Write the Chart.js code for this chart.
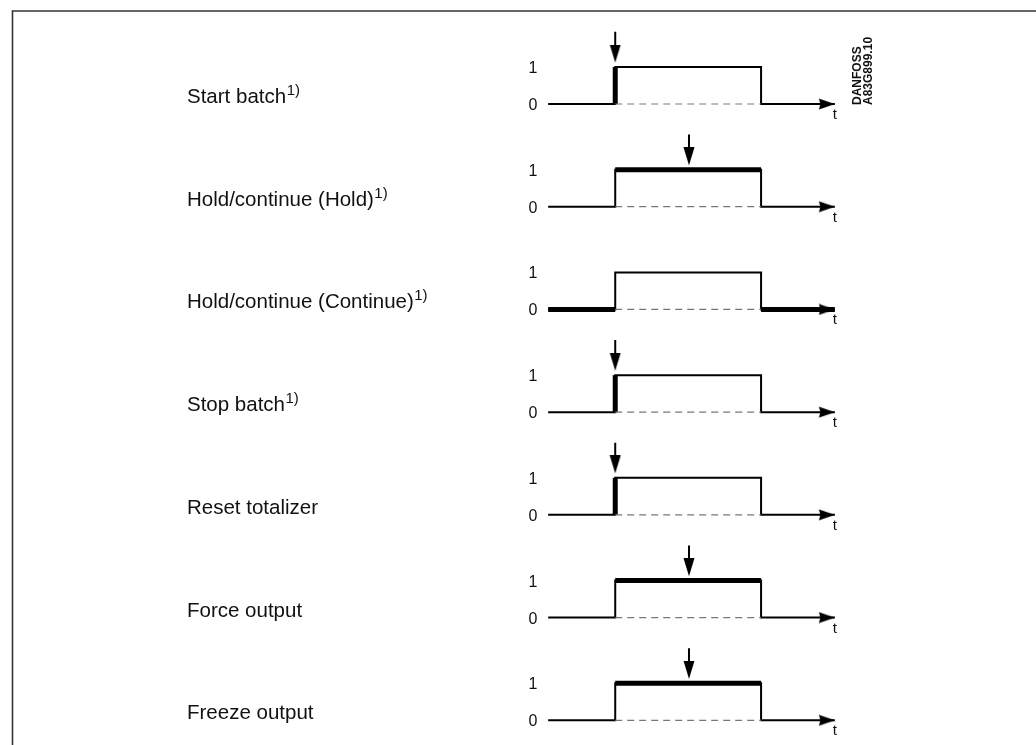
<!DOCTYPE html>
<html>
<head>
<meta charset="utf-8">
<script src="https://cdn.jsdelivr.net/npm/chart.js@4/dist/chart.umd.min.js"></script>
<style>
html, body { margin: 0; padding: 0; background: #fff; }
#wrap { position: relative; width: 1036px; height: 745px; }
</style>
</head>
<body>
<div id="wrap"><canvas id="chart" width="1036" height="745"></canvas></div>
<script>
// Zeilen des Zeitdiagramms
const rowLabels = [
    "Start batch",
    "Hold/continue (Hold)",
    "Hold/continue (Continue)",
    "Stop batch",
    "Reset totalizer",
    "Force output",
    "Freeze output",
];
const hasNote = [true, true, true, true, false, false, false];
// welcher Teil des Signals ist hervorgehoben
const emphasis = ["rise", "high", "low", "rise", "rise", "high", "high"];
// Zeitpunkt des Pfeils (null = kein Pfeil)
const markerTime = [20, 42, null, 20, 20, 42, 42];

// Signalverlauf (Zeit / Pegel)
const waveTime = [0, 20, 20, 63.5, 63.5, 85.5];
const waveLevel = [0, 0, 1, 1, 0, 0];
const levelTicks = ["0", "1"];

const rowGap = 2.776;
const arrowTop = 1.95;
const arrowTip = 1.12;

function kopf(w, h, pts) {
    const c = document.createElement("canvas");
    c.width = w;
    c.height = h;
    const g = c.getContext("2d");
    g.fillStyle = "#000";
    g.beginPath();
    g.moveTo(pts[0][0], pts[0][1]);
    for (let k = 1; k < pts.length; k++) g.lineTo(pts[k][0], pts[k][1]);
    g.closePath();
    g.fill();
    return c;
}
// Spitze liegt jeweils in der Bildmitte
const downHead = kopf(12, 36, [[0.5, 0], [11.5, 0], [6, 18]]);
const rightHead = kopf(34, 12, [[1, 0.5], [17, 6], [1, 11.5], [2.5, 6]]);

function pt(i, t, level) {
    return { x: t, y: level - i * rowGap };
}

const datasets = [];
rowLabels.forEach((_, i) => {
    const wave = waveTime.map((t, k) => pt(i, t, waveLevel[k]));
    const line = { showLine: true, pointRadius: 0, borderColor: "#000", borderCapStyle: "butt", borderJoinStyle: "miter", tension: 0 };

    datasets.push({ ...line, data: [pt(i, waveTime[1], 0), pt(i, waveTime[3], 0)], borderColor: "#777", borderWidth: 1.2, borderDash: [7, 5] });
    datasets.push({ ...line, data: wave, borderWidth: 2 });

    let thick;
    if (emphasis[i] === "rise") thick = [wave[1], wave[2]];
    else if (emphasis[i] === "high") thick = [wave[2], wave[3]];
    else thick = [wave[0], wave[1], { x: 40, y: null }, wave[4], wave[5]];
    datasets.push({ ...line, data: thick, borderWidth: 5, spanGaps: false });

    if (markerTime[i] !== null) {
        datasets.push({ ...line, data: [pt(i, markerTime[i], arrowTop), pt(i, markerTime[i], arrowTip + 0.15)], borderWidth: 2 });
        datasets.push({ data: [pt(i, markerTime[i], arrowTip)], pointStyle: downHead, pointRadius: 5, showLine: false });
    }
    datasets.push({ data: [pt(i, waveTime[5], 0)], pointStyle: rightHead, pointRadius: 5, showLine: false });
});

const schrift = "'Liberation Sans', Arial, sans-serif";

const texte = {
    id: "texte",
    beforeDraw(chart) {
        const ctx = chart.ctx;
        ctx.save();
        ctx.strokeStyle = "#333";
        ctx.lineWidth = 1.6;
        ctx.beginPath();
        ctx.moveTo(12.5, 745);
        ctx.lineTo(12.5, 11);
        ctx.lineTo(1036, 11);
        ctx.stroke();
        ctx.restore();
    },
    afterDatasetsDraw(chart) {
        const ctx = chart.ctx;
        const xs = chart.scales.x;
        const ys = chart.scales.y;
        ctx.save();
        ctx.fillStyle = "#111";
        rowLabels.forEach((label, i) => {
            const y0 = ys.getPixelForValue(-i * rowGap);
            const y1 = ys.getPixelForValue(1 - i * rowGap);
            ctx.textAlign = "left";
            ctx.textBaseline = "alphabetic";
            ctx.font = "20.5px " + schrift;
            ctx.fillText(label, 187, y0 - 1);
            if (hasNote[i]) {
                const w = ctx.measureText(label).width;
                ctx.font = "15px " + schrift;
                ctx.fillText("1)", 187 + w + 0.5, y0 - 9);
            }
            ctx.textAlign = "center";
            ctx.font = "16px " + schrift;
            ctx.fillText(levelTicks[1], 533, y1 + 6);
            ctx.fillText(levelTicks[0], 533, y0 + 6);
            ctx.font = "15px " + schrift;
            ctx.fillText("t", xs.getPixelForValue(waveTime[5]), y0 + 15);
        });
        ctx.translate(852, 105);
        ctx.rotate(-Math.PI / 2);
        ctx.textAlign = "left";
        ctx.font = "bold 12px " + schrift;
        ctx.fillText("DANFOSS", 0, 9);
        ctx.fillText("A83G899.10", 0, 19.5);
        ctx.restore();
    },
};

new Chart(document.getElementById("chart").getContext("2d"), {
    type: "scatter",
    data: { datasets: datasets },
    options: {
        responsive: false,
        devicePixelRatio: 1,
        animation: false,
        events: [],
        layout: { padding: 0, autoPadding: false },
        plugins: { legend: { display: false }, tooltip: { enabled: false } },
        scales: {
            x: { type: "linear", display: false, min: -163.5, max: 145.5 },
            y: { type: "linear", display: false, min: -17.324, max: 2.811 },
        },
    },
    plugins: [texte],
});
</script>
</body>
</html>
